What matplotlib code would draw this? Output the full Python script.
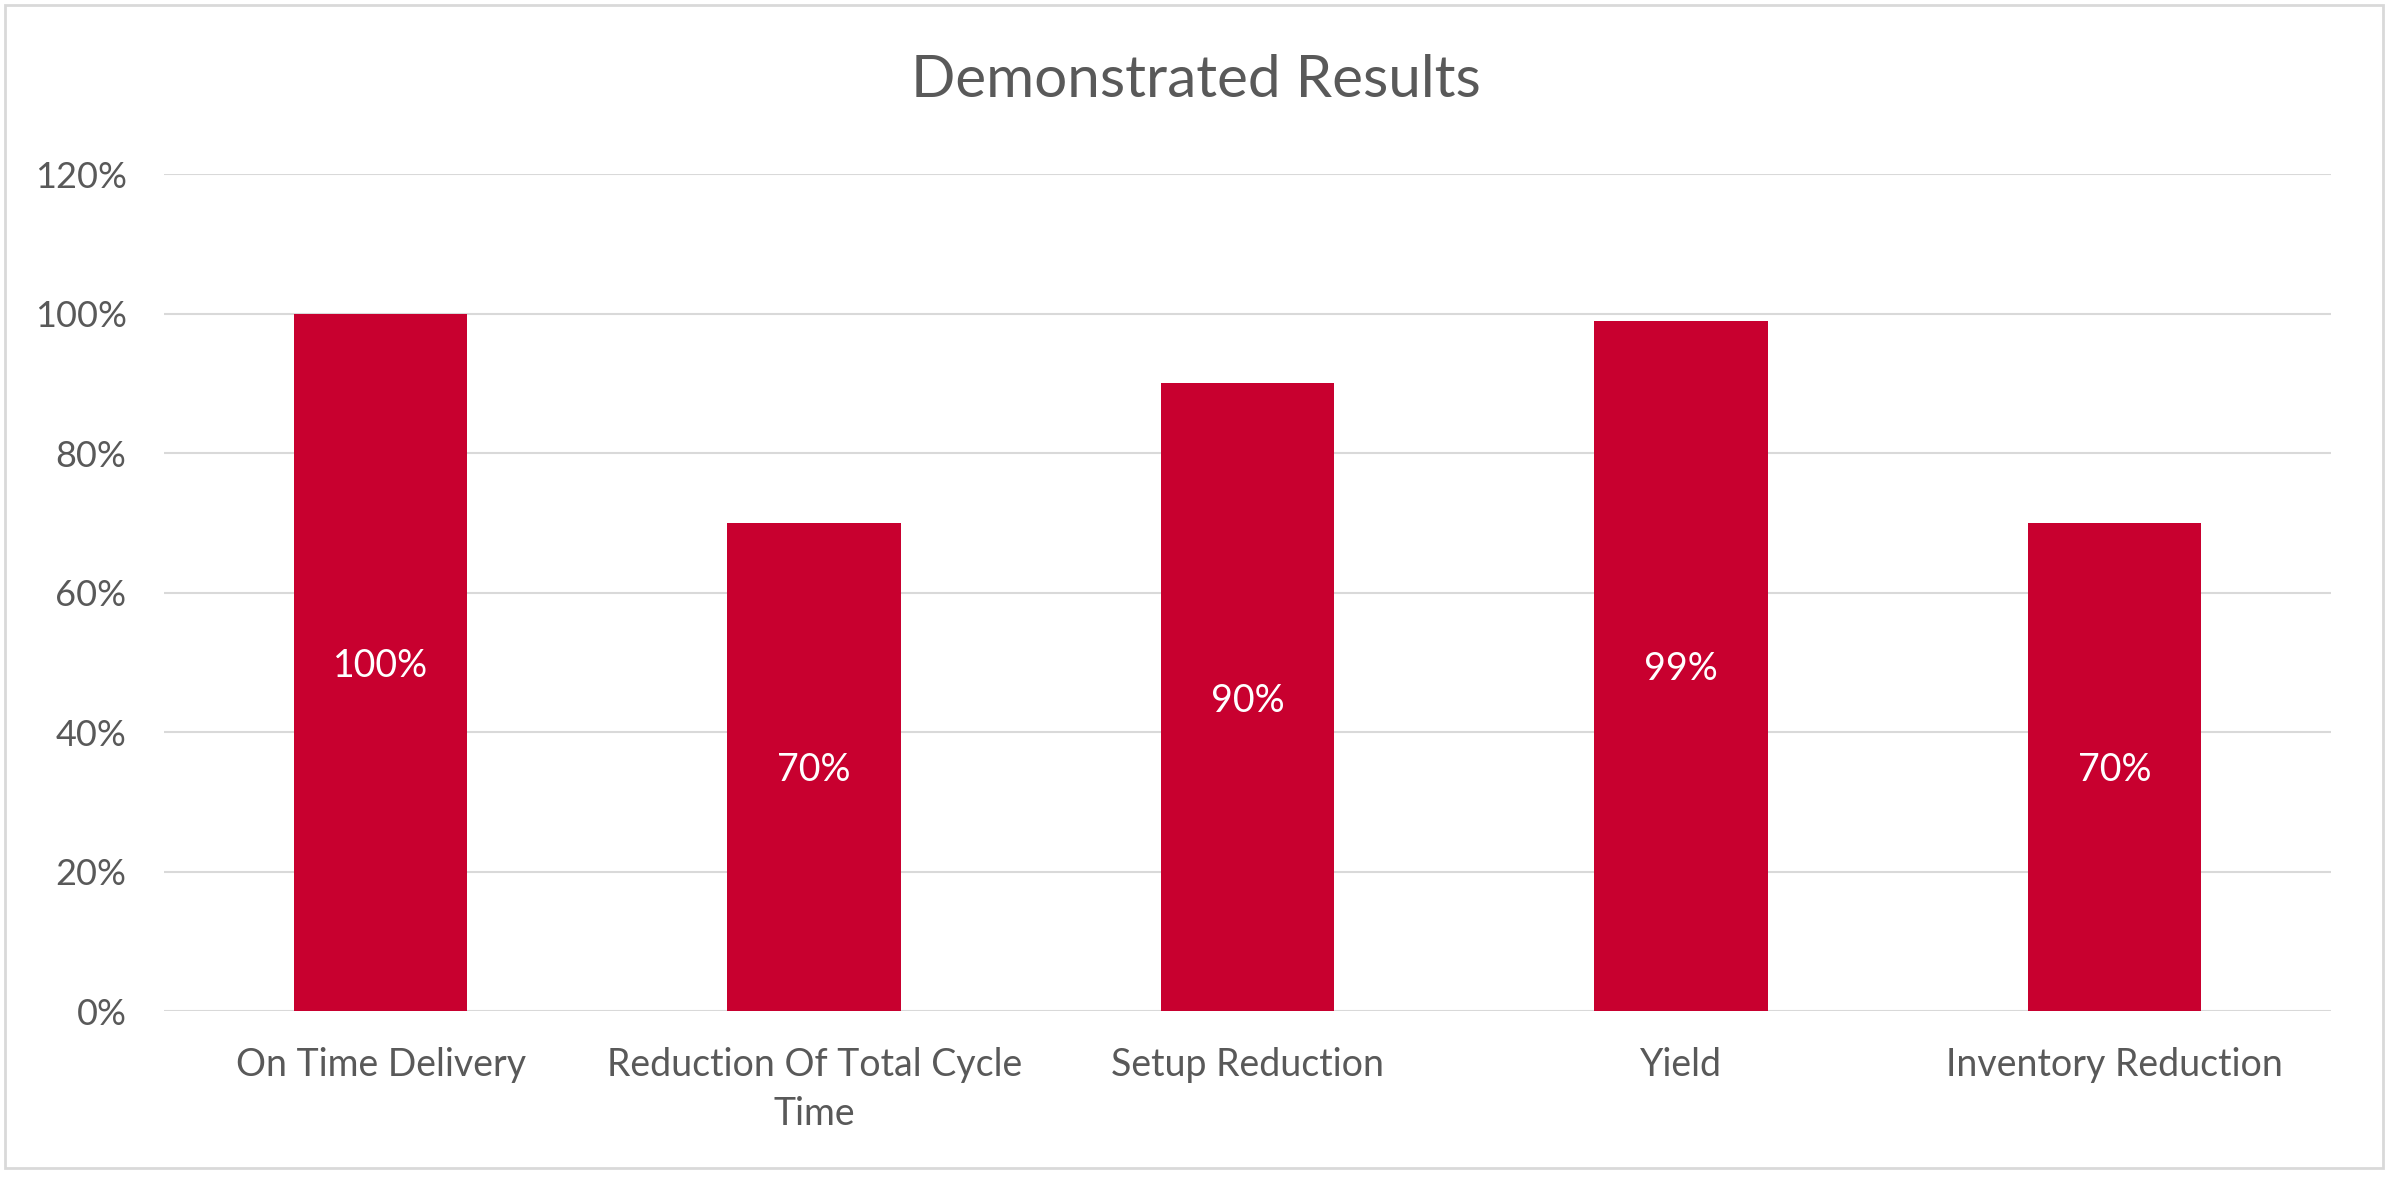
import matplotlib
matplotlib.use("Agg")
import matplotlib.pyplot as plt
from matplotlib.patches import Rectangle

categories = ["On Time Delivery", "Reduction Of Total Cycle\nTime", "Setup Reduction",
              "Yield", "Inventory Reduction"]
values = [1.00, 0.70, 0.90, 0.99, 0.70]
yticks = [0, 0.2, 0.4, 0.6, 0.8, 1.0, 1.2]

bar_color = "#C8002F"
text_color = "#595959"
grid_color = "#D9D9D9"

plt.rcParams['font.family'] = ['Lato', 'DejaVu Sans']

fig = plt.figure(figsize=(23.92, 11.77), dpi=100)
ax = fig.add_axes([0.0686, 0.141, 0.9059, 0.711])

x = range(len(categories))
bars = ax.bar(x, values, width=0.4, color=bar_color, zorder=3)

# value labels in the middle of each bar
for b, v in zip(bars, values):
    ax.text(b.get_x() + b.get_width() / 2, v / 2, f"{v:.0%}",
            ha='center', va='center_baseline', color='white', fontsize=27, zorder=4)

ax.set_xlim(-0.5, len(categories) - 0.5)
ax.set_ylim(0, 1.2)
ax.set_yticks(yticks)
ax.set_yticklabels([f"{t:.0%}" for t in yticks])
ax.set_xticks(list(x))
ax.set_xticklabels(categories, linespacing=1.45)
ax.tick_params(axis='y', length=0, pad=27, labelsize=26, labelcolor=text_color)
ax.tick_params(axis='x', length=0, pad=26, labelsize=27, labelcolor=text_color)

ax.grid(axis='y', color=grid_color, linewidth=1.5, zorder=0)
for s in ax.spines.values():
    s.set_visible(False)

fig.text(0.5, 0.932, "Demonstrated Results", ha='center', va='center',
         fontsize=42, color=text_color)

# light grey frame around the whole chart
fig.patches.append(Rectangle((5 / 2392, 1 - 1168 / 1177), 2378 / 2392, 1163 / 1177,
                             transform=fig.transFigure, fill=False,
                             edgecolor=grid_color, linewidth=2))

fig.savefig("out.png", dpi=100, facecolor='white')
